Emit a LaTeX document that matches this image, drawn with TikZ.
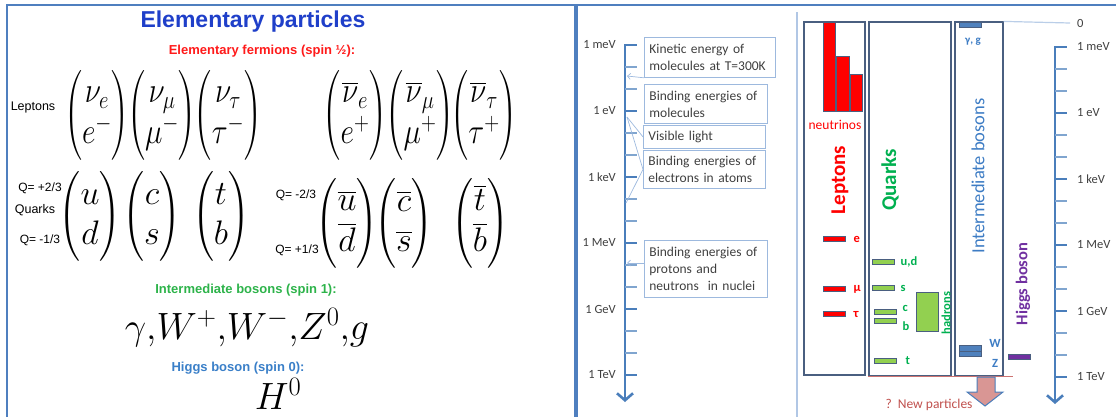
\RequirePackage{fix-cm}
\documentclass[tikz,border=0pt]{standalone}
\usepackage{amsmath}
\usepackage{fontspec}
\newfontfamily\arialfont{Liberation Sans}
\newfontfamily\califont{Carlito}
\usetikzlibrary{arrows.meta,positioning,calc}
\definecolor{titleblue}{HTML}{1F3FC9}
\definecolor{fermionred}{HTML}{FF1A1A}
\definecolor{bosongreen}{HTML}{2DB34A}
\definecolor{higgsblue}{HTML}{3A7FC8}
\definecolor{panelblue}{HTML}{4F7FBF}
\definecolor{scaleblue}{HTML}{4A7EBB}
\definecolor{lightblue}{HTML}{9DB9DE}
\definecolor{framegray}{HTML}{4A5F80}
\definecolor{leptonred}{HTML}{FF0000}
\definecolor{quarkgreen}{HTML}{00B050}
\definecolor{barlime}{HTML}{92D050}
\definecolor{bosonblue}{HTML}{3D7CC4}
\definecolor{barblue}{HTML}{4F81BD}
\definecolor{higgspurple}{HTML}{7030A0}
\definecolor{arrowpink}{HTML}{D99694}
\definecolor{newred}{HTML}{C0504D}
\definecolor{textgray}{HTML}{3F3F3F}
\tikzset{
  >=Latex,
  panel/.style={draw=panelblue, line width=1.8pt},
  separator/.style={draw=lightblue!80, line width=1.2pt},
  title/.style={font=\arialfont\bfseries\fontsize{23}{27}\selectfont, text=titleblue, inner sep=0pt},
  heading/.style={font=\arialfont\bfseries\fontsize{13}{15}\selectfont, inner sep=0pt},
  sidelabel/.style={font=\arialfont\fontsize{12.5}{14}\selectfont, inner sep=0pt},
  qlabel/.style={font=\arialfont\fontsize{12}{14}\selectfont, inner sep=0pt},
  doublet/.style={inner sep=0pt, font=\fontsize{36}{41}\selectfont},
  qdoublet/.style={inner sep=0pt, font=\fontsize{34}{40}\selectfont},
  bigmath/.style={inner sep=0pt, font=\fontsize{38}{46}\selectfont},
  scaleline/.style={draw=scaleblue, line width=2.6pt},
  majortick/.style={draw=scaleblue, line width=2.6pt},
  minortick/.style={draw=scaleblue!70, line width=1.2pt},
  scalelabel/.style={font=\califont\fontsize{12.5}{14}\selectfont, text=textgray, inner sep=1pt},
  infobox/.style={draw=lightblue, line width=0.8pt, align=left, anchor=north west,
    inner xsep=5pt, inner ysep=2pt, font=\califont\fontsize{13.5}{17}\selectfont, text=textgray},
  conn/.style={draw=lightblue, line width=0.7pt},
  connarrow/.style={conn, -{Straight Barb[length=3pt,width=6pt]}},
  column/.style={draw=framegray, line width=1.2pt, inner sep=0pt},
  bar/.style={draw=framegray, line width=0.9pt, minimum width=22pt, minimum height=5.5pt, inner sep=0pt},
  redbar/.style={bar, fill=leptonred},
  limebar/.style={bar, fill=barlime},
  bluebar/.style={bar, fill=barblue},
  purplebar/.style={bar, fill=higgspurple},
  nubar/.style={draw=framegray, line width=0.9pt, fill=leptonred, inner sep=0pt},
  tag/.style={font=\califont\bfseries\fontsize{12.5}{14}\selectfont, inner sep=1pt},
  vlabel/.style={rotate=90, inner sep=0pt},
  zeroline/.style={draw=lightblue!70, line width=1.2pt},
  newline/.style={draw=newred!80, line width=0.8pt},
  newarrow/.style={draw=scaleblue, line width=1pt, fill=arrowpink}
}
\newcommand{\leptondoublet}[2]{\scalebox{0.82}[1]{$\begin{pmatrix}#1\\ #2\end{pmatrix}$}}
\newcommand{\energyscale}[5]{%
  \draw[scaleline, -{Straight Barb[length=7pt,width=16pt]}] (#2,#3-1) -- (#2,#3+357);
  \foreach \k/\lab in {0/1 meV,1/1 eV,2/1 keV,3/1 MeV,4/1 GeV,5/1 TeV}{
    \draw[majortick] (#2,#3+66*\k) -- ++(12,0);
    \node[scalelabel, anchor=#5] (#1-\k) at (#2+#4,#3+66*\k) {\lab};
  }
  \foreach \k in {0,...,4}{
    \draw[minortick] (#2,#3+66*\k+22) -- ++(12,0);
    \draw[minortick] (#2,#3+66*\k+44) -- ++(12,0);
  }
}
\begin{document}
\begin{tikzpicture}[x=1pt,y=-1pt]
\useasboundingbox (0,0) rectangle (1116,416);
\draw[panel] (7,418) -- (7,5) -- (575,5) -- (575,418);
\draw[panel] (577,418) -- (577,5) -- (1118,5);
\draw[separator] (797,12) -- (797,418);

% left panel
\node[title] (title) at (253,22) {Elementary particles};
\node[heading, text=fermionred] (fermions) at (262,51) {Elementary fermions (spin ½):};
\node[sidelabel] (leptons) at (33,107) {Leptons};
\node[doublet] (dl1) at (97,115) {\leptondoublet{\nu_e}{e^-}};
\node[doublet] (dl2) at (162,115) {\leptondoublet{\nu_\mu}{\mu^-}};
\node[doublet] (dl3) at (228,115) {\leptondoublet{\nu_\tau}{\tau^-}};
\node[doublet] (adl1) at (355,115) {\leptondoublet{\overline{\nu}_e}{e^+}};
\node[doublet] (adl2) at (420,115) {\leptondoublet{\overline{\nu}_\mu}{\mu^+}};
\node[doublet] (adl3) at (484,115) {\leptondoublet{\overline{\nu}_\tau}{\tau^+}};

\node[qlabel] (qup) at (40,188) {Q= +2/3};
\node[sidelabel] (quarks) at (35,210) {Quarks};
\node[qlabel] (qdown) at (40,240) {Q= -1/3};
\node[qdoublet] (dq1) at (90,216) {$\begin{pmatrix}u\\ d\end{pmatrix}$};
\node[qdoublet] (dq2) at (152,216) {$\begin{pmatrix}c\\ s\end{pmatrix}$};
\node[qdoublet] (dq3) at (221,216) {$\begin{pmatrix}t\\ b\end{pmatrix}$};
\node[qlabel] (aqup) at (296,195) {Q= -2/3};
\node[qlabel] (aqdown) at (297,250) {Q= +1/3};
\node[qdoublet] (adq1) at (347,223) {$\begin{pmatrix}\overline{u}\\ \overline{d}\end{pmatrix}$};
\node[qdoublet] (adq2) at (404,223) {$\begin{pmatrix}\overline{c}\\ \overline{s}\end{pmatrix}$};
\node[qdoublet] (adq3) at (480,223) {$\begin{pmatrix}\overline{t}\\ \overline{b}\end{pmatrix}$};

\node[heading, text=bosongreen] (bosons) at (246,290) {Intermediate bosons (spin 1):};
\node[bigmath, anchor=base] (bosonlist) at (247,339) {$\gamma{,}W^+{,}W^-{,}Z^0{,}g$};
\node[heading, text=higgsblue] (higgs) at (238,368) {Higgs boson (spin 0):};
\node[bigmath, anchor=base] (higgsfield) at (278,409) {$H^0$};

% energy scales
\energyscale{ls}{625}{45}{-8}{east}
\energyscale{rs}{1055}{47}{21}{west}

\node[infobox, text width=121pt, minimum height=40pt] (kinetic) at (644,37) {Kinetic energy of\\molecules at T=300K};
\node[infobox, text width=113pt, minimum height=39pt] (molecules) at (644,84) {Binding energies of\\molecules};
\node[infobox, text width=112pt, minimum height=23pt] (visible) at (643,125) {Visible light};
\node[infobox, text width=112pt, minimum height=38pt] (electrons) at (643,150) {Binding energies of\\electrons in atoms};
\node[infobox, text width=113pt, minimum height=57pt] (nuclei) at (644,240) {Binding energies of\\protons and\\neutrons\ \ in nuclei};
\coordinate (kT) at (627,76);
\coordinate (eVpt) at (627,117);
\coordinate (keVpt) at (626,203);
\coordinate (nucpt) at (627,263);
\draw[connarrow] (kinetic.south west) -- (kT);
\draw[conn] (eVpt) -- (visible.west);
\draw[conn] (eVpt) -- (electrons.west) -- (keVpt);
\draw[connarrow] (nucpt -| nuclei.west) -- (nucpt);

% particle columns
\node[column, minimum width=61pt, minimum height=353pt] (lepcol) at (834.5,198.5) {};
\node[column, minimum width=82pt, minimum height=354pt] (quarkcol) at (910,199) {};
\node[column, minimum width=48pt, minimum height=354pt] (boscol) at (979,199) {};
\draw[newline] (quarkcol.south west) -- ($(boscol.south east)+(9,0)$);
\node[scalelabel, anchor=west, inner xsep=7pt] (zero) at (1070,23) {0};
\draw[zeroline] (boscol.north east) -- (zero.west);

\node[nubar, minimum width=12pt, minimum height=89pt, anchor=south west] (nu1) at (823,112) {};
\node[nubar, minimum width=13pt, minimum height=55pt, anchor=south west] (nu2) at (nu1.south east) {};
\node[nubar, minimum width=12pt, minimum height=37pt, anchor=south west] (nu3) at (nu2.south east) {};
\node[font=\califont\fontsize{13.5}{15}\selectfont, text=leptonred, inner sep=0pt] (nulbl) at (835,125) {neutrinos};
\node[vlabel, text=leptonred, font=\califont\bfseries\fontsize{21}{24}\selectfont] (leptxt) at (840,180) {Leptons};
\node[redbar] (ebar) at (834,239) {};
\node[redbar] (mubar) at (834,289) {};
\node[redbar] (taubar) at (834,314) {};
\node[tag, text=leptonred, right=7pt of ebar] (elbl) {e};
\node[tag, text=leptonred, right=7pt of mubar] (mulbl) {μ};
\node[tag, text=leptonred, right=7pt of taubar] (taulbl) {τ};

\node[vlabel, text=quarkgreen, font=\califont\bfseries\fontsize{21}{24}\selectfont] (quarktxt) at (890,180) {Quarks};
\node[limebar] (udbar) at (883,262) {};
\node[limebar] (sbar) at (883,288) {};
\node[limebar] (cbar) at (885,312) {};
\node[limebar] (bbar) at (885,321) {};
\node[limebar] (tbar) at (885,361) {};
\node[tag, text=quarkgreen, right=5pt of udbar] (udlbl) {u,d};
\node[tag, text=quarkgreen, right=5pt of sbar] (slbl) {s};
\node[tag, text=quarkgreen, anchor=west] (clbl) at ($(cbar.east)+(5,-4)$) {c};
\node[tag, text=quarkgreen, anchor=west] (blbl) at ($(bbar.east)+(5,5)$) {b};
\node[tag, text=quarkgreen, right=8pt of tbar] (tlbl) {t};
\node[limebar, minimum width=22pt, minimum height=39pt] (hadbox) at (927,311.5) {};
\node[vlabel, tag, text=quarkgreen] (hadtxt) at (946,313) {hadrons};

\node[vlabel, text=bosonblue, font=\califont\fontsize{18.5}{20}\selectfont] (bostxt) at (978,176) {Intermediate bosons};
\node[bluebar, minimum height=4.5pt] (gbar) at (970.5,25) {};
\node[tag, text=bosonblue, font=\califont\bfseries\fontsize{11}{13}\selectfont] (glbl) at (973,42) {γ, g};
\node[bluebar] (wbar) at (970.5,348.5) {};
\node[bluebar] (zbar) at (970.5,354) {};
\node[tag, text=bosonblue] (wlbl) at (995,343) {W};
\node[tag, text=bosonblue] (zlbl) at (995,363) {Z};
\node[purplebar] (hbar) at (1019,357) {};
\node[vlabel, text=higgspurple, font=\califont\bfseries\fontsize{16.5}{18}\selectfont] (higgstxt) at (1023,284) {Higgs boson};

\draw[newarrow] (977,377) -- (995,377) -- (995,392) -- (1003,392) -- (985,406) -- (967,392) -- (977,392) -- cycle;
\node[font=\califont\fontsize{13.5}{15}\selectfont, text=newred, inner sep=0pt] (newpart) at (929,405) {?\ \ New particles};
\end{tikzpicture}
\end{document}
